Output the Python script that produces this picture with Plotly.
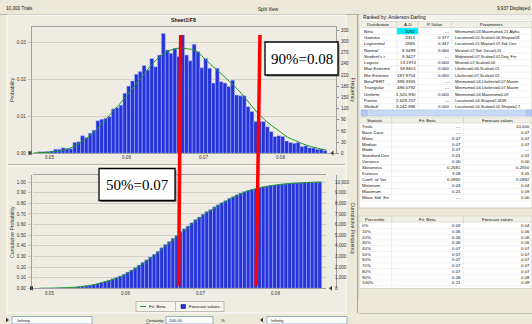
import plotly.graph_objects as go

W, H = 532, 324

# ---------------- data ----------------
TRIALS = 10000
DISPLAYED = 9937
BIN_START = 0.0486
BIN_WIDTH = 0.0005
freq_counts = [4, 4, 5, 6, 11, 11, 15, 13, 12, 29,
               31, 47, 42, 54, 62, 87, 91, 94, 98, 119,
               122, 129, 161, 180, 194, 212, 219, 235, 223, 254,
               232, 263, 321, 277, 268, 281, 259, 317, 263, 248,
               292, 272, 229, 254, 228, 188, 228, 192, 188, 179,
               196, 156, 154, 154, 125, 112, 85, 85, 85, 71,
               58, 45, 47, 45, 33, 29, 27, 29, 18, 20,
               15, 14, 11, 11, 7]
fit_x = [0.048, 0.049, 0.050, 0.051, 0.052, 0.053, 0.054, 0.055, 0.056, 0.057,
         0.058, 0.059, 0.060, 0.061, 0.062, 0.063, 0.064, 0.065, 0.066, 0.067,
         0.068, 0.069, 0.070, 0.071, 0.072, 0.073, 0.074, 0.075, 0.076, 0.077,
         0.078, 0.079, 0.080, 0.081, 0.082, 0.083, 0.084, 0.085, 0.086]
fit_counts = [1, 2, 3, 5, 9, 16, 27, 42, 60, 82,
              105, 128, 152, 178, 203, 229, 252, 268, 278, 282,
              280, 275, 258, 238, 220, 201, 181, 160, 135, 110,
              90, 73, 58, 43, 34, 25, 18, 13, 9]
x_ticks = [0.05, 0.06, 0.07, 0.08]
prob_ticks = [0.00, 0.01, 0.02, 0.03]
freq_ticks = [0, 30, 60, 90, 120, 150, 180, 210, 240, 270, 300, 330]
cum_ticks = [0.0, 0.1, 0.2, 0.3, 0.4, 0.5, 0.6, 0.7, 0.8, 0.9, 1.0]
cumfreq_ticks = [0, 1000, 2000, 3000, 4000, 5000, 6000, 7000, 8000, 9000, 10000]
P50 = 0.0671
P90 = 0.0774
label_50 = "50%=0.07"
label_90 = "90%=0.08"

rank_dist = ["Beta", "Gamma", "Lognormal", "Normal", "Student's t", "Logistic",
             "Max Extreme", "Min Extreme", "BetaPERT", "Triangular", "Uniform",
             "Pareto", "Weibull"]
rank_ad = [".3282", ".3313", ".3595", "8.5499", "9.3427", "13.1974", "59.8601",
           "187.9754", "398.3355", "496.0792", "1,520.930", "2,629.257", "3,242.896"]
rank_p = ["---", "0.377", "0.347", "0.000", "---", "0.000", "0.000", "0.000",
          "---", "---", "0.000", "---", "0.000"]
rank_par = ["Minimum=0.03,Maximum=0.21,Alpha",
            "Location=0.02,Scale=0.00,Shape=58.",
            "Location=0.01,Mean=0.07,Std. Dev.",
            "Mean=0.07,Std. Dev.=0.01",
            "Midpoint=0.07,Scale=0.01,Deg. Fre",
            "Mean=0.07,Scale=0.00",
            "Likeliest=0.06,Scale=0.01",
            "Likeliest=0.07,Scale=0.01",
            "Minimum=0.04,Likeliest=0.07,Maxim",
            "Minimum=0.04,Likeliest=0.07,Maxim",
            "Minimum=0.04,Maximum=0.09",
            "Location=0.04,Shape=2.4638",
            "Location=0.04,Scale=0.02,Shape=2.7"]
stat_names = ["Trials", "Base Case", "Mean", "Median", "Mode", "Standard Dev",
              "Variance", "Skewness", "Kurtosis", "Coeff. of Var", "Minimum",
              "Maximum", "Mean Std. Err"]
stat_fit = ["---", "---", "0.07", "0.07", "0.07", "0.01", "0.00", "0.2581",
            "3.08", "0.0992", "0.03", "0.21", "---"]
stat_fc = ["10,000", "0.07", "0.07", "0.07", "---", "0.01", "0.00", "0.2550",
           "3.05", "0.0992", "0.04", "0.09", "0.00"]
pct_names = ["0%", "10%", "20%", "30%", "40%", "50%", "60%", "70%", "80%", "90%", "100%"]
pct_fit = ["0.03", "0.06", "0.06", "0.06", "0.07", "0.07", "0.07", "0.07", "0.07", "0.08", "0.21"]
pct_fc = ["0.04", "0.06", "0.06", "0.06", "0.07", "0.07", "0.07", "0.07", "0.07", "0.08", "0.09"]

# ---------------- derived ----------------
centers = [BIN_START + BIN_WIDTH * (i + 0.5) for i in range(len(freq_counts))]
rights = [BIN_START + BIN_WIDTH * (i + 1) for i in range(len(freq_counts))]
prob = [c / DISPLAYED for c in freq_counts]
fit_prob = [c / DISPLAYED for c in fit_counts]
total = sum(freq_counts)
cum = []
s = 0
for c in freq_counts:
    s += c
    cum.append(s / total)
cum_line_x = [BIN_START] + rights
cum_line_y = [0.0] + cum

UI = "Liberation Sans"
BG = "#ece9d8"
PLOT_BG = "#ffffef"
BLUE = "#2433dc"
GREEN = "#1f9a2a"
GRID = "#c4c4bc"


def px(x):
    return x / W


def py(y):
    return 1 - y / H


# axis geometry (pixels)
T_L, T_R, T_T, T_B = 31.7, 336.0, 26.7, 153.3
B_L, B_R, B_T, B_B = 33.3, 326.0, 175.0, 288.3
T_XR = [0.05 + (T_L - 49.0) / 7700, 0.05 + (T_R - 49.0) / 7700]
B_XR = [0.05 + (B_L - 49.8) / 7531, 0.05 + (B_R - 49.8) / 7531]
T_YMAX = (T_B - T_T) / 0.3733
B_YMAX = 1 + (182.0 - B_T) / 106.3

fig = go.Figure()

bar_line = dict(color="#b4bcf4", width=0.5)
fig.add_trace(go.Bar(x=centers, y=prob, width=BIN_WIDTH, marker=dict(color=BLUE, line=bar_line),
                     xaxis="x", yaxis="y", showlegend=False, hoverinfo="skip"))
fig.add_trace(go.Scatter(x=fit_x, y=fit_prob, mode="lines", line=dict(color=GREEN, width=1, shape="spline"),
                         xaxis="x", yaxis="y", showlegend=False, hoverinfo="skip"))
fig.add_trace(go.Scatter(x=[centers[0]], y=[0], mode="markers", marker=dict(opacity=0),
                         xaxis="x", yaxis="y2", showlegend=False, hoverinfo="skip"))
fig.add_trace(go.Bar(x=centers, y=cum, width=BIN_WIDTH, marker=dict(color=BLUE, line=bar_line),
                     xaxis="x2", yaxis="y3", showlegend=False, hoverinfo="skip"))
fig.add_trace(go.Scatter(x=cum_line_x, y=cum_line_y, mode="lines", line=dict(color=GREEN, width=1, shape="spline"),
                         xaxis="x2", yaxis="y3", showlegend=False, hoverinfo="skip"))
fig.add_trace(go.Scatter(x=[centers[0]], y=[0], mode="markers", marker=dict(opacity=0),
                         xaxis="x2", yaxis="y4", showlegend=False, hoverinfo="skip"))

tickfont = dict(family=UI, size=4.6, color="#333333")
common = dict(automargin=False, zeroline=False)
fig.update_layout(
    width=W, height=H, margin=dict(l=0, r=0, t=0, b=0, autoexpand=False),
    paper_bgcolor=BG, plot_bgcolor=PLOT_BG, bargap=0, barmode="overlay",
    font=dict(family=UI, size=5, color="#000"),
    xaxis=dict(domain=[px(T_L), px(T_R)], range=T_XR, anchor="y", tickvals=x_ticks,
               showticklabels=False, showgrid=False,
               showline=True, linecolor="#a0a0a0", linewidth=1, mirror=True, ticks="", **common),
    yaxis=dict(domain=[py(T_B), py(T_T)], range=[0, T_YMAX / DISPLAYED], tickvals=prob_ticks,
               ticktext=["%.2f" % v for v in prob_ticks], tickfont=tickfont, showgrid=True, gridcolor=GRID,
               gridwidth=0.7, showline=True, linecolor="#a0a0a0", linewidth=1, mirror=True,
               ticks="outside", ticklen=3, tickcolor=GRID, ticklabelstandoff=1, **common),
    yaxis2=dict(overlaying="y", side="right", anchor="x", range=[0, T_YMAX], tickvals=freq_ticks,
                tickfont=tickfont, showgrid=False, ticks="outside", ticklen=2,
                tickcolor="#888", ticklabelstandoff=1, **common),
    xaxis2=dict(domain=[px(B_L), px(B_R)], range=B_XR, anchor="y3", tickvals=x_ticks,
                showticklabels=False, showgrid=False,
                showline=True, linecolor="#a0a0a0", linewidth=1, mirror=True, ticks="", **common),
    yaxis3=dict(domain=[py(B_B), py(B_T)], range=[0, B_YMAX], tickvals=cum_ticks,
                ticktext=["%.2f" % v for v in cum_ticks], tickfont=tickfont, showgrid=True, gridcolor=GRID,
                gridwidth=0.7, showline=True, linecolor="#a0a0a0", linewidth=1, mirror=True,
                ticks="outside", ticklen=3, tickcolor=GRID, ticklabelstandoff=1, **common),
    yaxis4=dict(overlaying="y3", side="right", anchor="x2", range=[0, B_YMAX * TRIALS], tickvals=cumfreq_ticks,
                ticktext=["{:,}".format(v) for v in cumfreq_ticks], tickfont=tickfont, showgrid=False,
                ticks="outside", ticklen=6, tickcolor="rgba(0,0,0,0)", ticklabelstandoff=1, **common),
)

shapes = []
ann = []


def rect(x0, y0, x1, y1, fill, line="rgba(0,0,0,0)", lw=0, layer="below"):
    shapes.append(dict(type="rect", xref="paper", yref="paper", x0=px(x0), x1=px(x1), y0=py(y1), y1=py(y0),
                       fillcolor=fill, line=dict(color=line, width=lw), layer=layer))


def hline(x0, x1, y, color="#a0a0a0", lw=1, layer="below"):
    shapes.append(dict(type="line", xref="paper", yref="paper", x0=px(x0), x1=px(x1), y0=py(y), y1=py(y),
                       line=dict(color=color, width=lw), layer=layer))


def vline(x, y0, y1, color="#a0a0a0", lw=1, layer="below"):
    shapes.append(dict(type="line", xref="paper", yref="paper", x0=px(x), x1=px(x), y0=py(y0), y1=py(y1),
                       line=dict(color=color, width=lw), layer=layer))


def txt(x, y, s, size=4.6, anchor="left", color="#111", bold=False, angle=0, family=UI, xref="paper"):
    if bold:
        s = "<b>" + s + "</b>"
    ann.append(dict(xref=xref, yref="paper", x=(px(x) if xref == "paper" else x), y=py(y), text=s,
                    showarrow=False, xanchor=anchor, yanchor="middle", textangle=angle, borderpad=0,
                    font=dict(family=family, size=size, color=color)))


def tri(x, y, d, color="#404040"):
    # small grabber triangle, d=+1 points right, -1 points left
    path = "M %f %f L %f %f L %f %f Z" % (px(x), py(y - 2.5), px(x), py(y + 2.5), px(x + 3 * d), py(y))
    shapes.append(dict(type="path", xref="paper", yref="paper", path=path, fillcolor=color,
                       line=dict(width=0), layer="above"))


# x tick labels placed at the tick values of each x axis
for v in x_ticks:
    txt(v, 157.8, "%.2f" % v, 4.6, "center", "#333333", xref="x")
    txt(v, 293.3, "%.2f" % v, 4.6, "center", "#333333", xref="x2")

# ---- window chrome ----
hline(0, W, 14.5, "#b8b4a0")
txt(5, 8, "10,000 Trials", 4.6)
txt(268, 9, "Split View", 4.6, "center")
txt(531, 8, "9,937 Displayed", 4.6, "right")
# left panel
rect(7, 15, 346, 313, "#efede3", "#ffffff", 0.8)
hline(8, 345, 164.5, "#b8b4a0", 1)
hline(8, 345, 166, "#ffffff", 1)
txt(183, 20.5, "Sheet1!F8", 5.2, "center", bold=True)
txt(12, 90, "Probability", 5.2, "center", "#333", angle=-90)
txt(12, 232, "Cumulative Probability", 5.2, "center", "#333", angle=-90)
txt(352.5, 90, "Frequency", 5.2, "center", "#333", angle=90)
txt(352.5, 228, "Cumulative Frequency", 5.2, "center", "#333", angle=90)
tri(28.5, 153, 1)
tri(31.5, 153, -1)
tri(333.5, 153, -1)
tri(30.0, 288.3, 1)
tri(33.0, 288.3, -1)
tri(332.0, 288.3, -1)

# legend
rect(136, 301.5, 224, 311.5, "#f4f3ec", "#a8a8a0", 0.7)
vline(175.5, 302, 311, "#a8a8a0", 0.7)
hline(140, 146, 306.5, GREEN, 1)
txt(148, 306.5, "Fit: Beta", 4.4)
rect(181, 304.5, 185.5, 308.5, BLUE, "#000080", 0.5)
txt(187.5, 306.5, "Forecast values", 4.4)

# bottom strip
tri(6, 320, 1)
rect(12, 316.5, 92, 324, "#ffffff", "#7f9db9", 0.8)
txt(15, 320.2, "-Infinity", 4.3)
txt(145, 320.2, "<u>C</u>ertainty:", 4.3)
rect(166, 316.5, 213, 324, "#ffffff", "#7f9db9", 0.8)
txt(168, 320.2, "100.00", 4.3)
txt(220, 320.2, "%", 4.3)
tri(263, 320, -1)
rect(267, 316.5, 347, 324, "#ffffff", "#7f9db9", 0.8)
txt(270, 320.2, "Infinity", 4.3)

# ---- right panel tables ----
vline(357.5, 14, 313, "#a8a8a0", 1)
rect(359, 14.5, 532, 300, "#ffffff", "#a8a8a0", 0.6)

# table 1
rect(359.5, 14.5, 532, 20, "#f3f2ec")
txt(362, 17.3, "Ranked by: Anderson-Darling", 4.8)
cols1 = [361, 396.7, 418.3, 451.7, 532]
rect(361, 21.5, 532, 27.5, "#f0efe8", "#c8c6b8", 0.5)
for c in cols1[1:-1]:
    vline(c, 21.5, 27.5, "#c8c6b8", 0.6)
hdr1 = ["Distribution", "A-D", "P-Value", "Parameters"]
for i, hname in enumerate(hdr1):
    txt((cols1[i] + cols1[i + 1]) / 2, 24.6, hname, 4.4, "center")
ROW1 = 6.28
for r in range(len(rank_dist)):
    yc = 31.3 + ROW1 * r
    if r == 0:
        rect(cols1[1], yc - ROW1 / 2, cols1[2], yc + ROW1 / 2, "#00e8f8")
    hline(361, 532, yc + ROW1 / 2, "#e4e4e4", 0.5)
    txt(363, yc, rank_dist[r], 4.4)
    txt(cols1[2] - 1, yc, rank_ad[r], 4.4, "right")
    txt(cols1[3] - 1, yc, rank_p[r], 4.4, "right")
    txt(cols1[3] + 2, yc, rank_par[r], 3.9)
for c in cols1[1:-1]:
    vline(c, 27.5, 109, "#e0e0e0", 0.5)
# scrollbar
rect(361, 110, 532, 116, "#c9d8f6", "#a8bce8", 0.5)
rect(361, 110, 367, 116, "#b4c8f2", "#98b0e0", 0.5)
rect(526, 110, 532, 116, "#b4c8f2", "#98b0e0", 0.5)

# table 2
cols2 = [359, 391.7, 463.3, 532]
rect(359, 117, 532, 123, "#f0efe8", "#c8c6b8", 0.5)
for c in cols2[1:-1]:
    vline(c, 117, 123, "#c8c6b8", 0.6)
hdr2 = ["Statistic", "Fit: Beta", "Forecast values"]
for i, hname in enumerate(hdr2):
    txt((cols2[i] + cols2[i + 1]) / 2, 120.2, hname, 4.4, "center")
ROW2 = 5.94
for r in range(len(stat_names)):
    yc = 126.2 + ROW2 * r
    hline(359, 532, yc + ROW2 / 2, "#e4e4e4", 0.5)
    txt(361, yc, stat_names[r], 4.4)
    txt(cols2[2] - 1, yc, stat_fit[r], 4.4, "right")
    txt(cols2[3] - 1, yc, stat_fc[r], 4.4, "right")
for c in cols2[1:-1]:
    vline(c, 123, 200, "#e0e0e0", 0.5)
rect(359, 208, 532, 216, BG)
hline(359, 532, 208, "#a8a8a0", 0.6)

# table 3
rect(359, 216, 532, 222, "#f0efe8", "#c8c6b8", 0.5)
for c in cols2[1:-1]:
    vline(c, 216, 222, "#c8c6b8", 0.6)
hdr3 = ["Percentile", "Fit: Beta", "Forecast values"]
for i, hname in enumerate(hdr3):
    txt((cols2[i] + cols2[i + 1]) / 2, 219.2, hname, 4.4, "center")
ROW3 = 5.73
for r in range(len(pct_names)):
    yc = 225.6 + ROW3 * r
    hline(359, 532, yc + ROW3 / 2, "#e4e4e4", 0.5)
    txt(361, yc, pct_names[r], 4.4)
    txt(cols2[2] - 1, yc, pct_fit[r], 4.4, "right")
    txt(cols2[3] - 1, yc, pct_fc[r], 4.4, "right")
for c in cols2[1:-1]:
    vline(c, 222, 286, "#e0e0e0", 0.5)
rect(359, 288.5, 532, 313, BG)
hline(359, 532, 288.5, "#c8c6b8", 0.6)
hline(359, 532, 313.5, "#a8a8a0", 0.6)


# ---- red percentile lines (through both charts) ----
def top_px(v):
    return T_L + (v - T_XR[0]) / (T_XR[1] - T_XR[0]) * (T_R - T_L)


def bot_px(v):
    return B_L + (v - B_XR[0]) / (B_XR[1] - B_XR[0]) * (B_R - B_L)


for v in (P50, P90):
    shapes.append(dict(type="line", xref="paper", yref="paper", x0=px(top_px(v)), y0=py(35),
                       x1=px(bot_px(v)), y1=py(286), line=dict(color="#ff0000", width=3.5), layer="above"))

# ---- callout boxes ----
for (x0, y0, x1, y1, label) in [(265, 42, 338, 75, label_90), (99, 168.5, 175, 200.5, label_50)]:
    rect(x0 + 1.5, y0 + 1.5, x1 + 1.5, y1 + 1.5, "#808080", layer="above")
    rect(x0, y0, x1, y1, "#ffffff", "#000000", 1.3, layer="above")
    ann.append(dict(xref="paper", yref="paper", x=px((x0 + x1) / 2), y=py((y0 + y1) / 2 + 0.5), text=label,
                    showarrow=False, xanchor="center", yanchor="middle",
                    font=dict(family="Liberation Serif", size=15, color="#000")))

fig.update_layout(shapes=shapes, annotations=ann)
fig.write_html("out.html", config={"displayModeBar": False, "staticPlot": True},
               post_script="document.body.style.margin='0px';document.body.style.padding='0px';document.body.style.overflow='hidden';")
